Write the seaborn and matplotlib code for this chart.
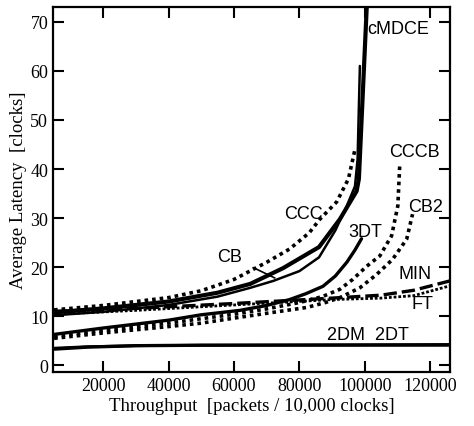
import matplotlib
matplotlib.use("Agg")
import matplotlib.pyplot as plt
import seaborn as sns

# ── Datos (throughput, latencia) ─────────────────────────────────────────
cmdce_x = [5000, 20000, 40000, 55000, 65000, 75000, 86000, 92400, 97500, 98200, 99500, 100800]
cmdce_y = [10.8, 11.6, 13.0, 14.8, 16.6, 19.8, 24.1, 29.8, 35.5, 38.0, 57.0, 76.0]

cb_x = [5000, 20000, 40000, 55000, 65000, 72000, 80000, 86000, 91000, 94500, 97000, 97800, 98500]
cb_y = [10.2, 10.9, 12.3, 14.0, 15.8, 17.2, 19.2, 22.0, 27.5, 32.5, 36.5, 42.0, 61.0]

ccc_x = [5000, 20000, 40000, 50000, 60000, 70000, 77000, 83000, 86300, 91400, 95000, 97000]
ccc_y = [11.3, 12.2, 13.8, 15.2, 17.5, 21.0, 23.7, 27.0, 29.8, 33.3, 38.0, 44.0]

tdt_x = [5000, 20000, 40000, 50000, 61800, 70000, 77000, 82000, 87200, 91000, 94500, 97000, 99000]
tdt_y = [6.3, 7.6, 9.2, 10.3, 11.2, 12.2, 13.4, 14.6, 16.1, 18.2, 21.0, 23.5, 25.8]

cccb_x = [5000, 20000, 40000, 50000, 60000, 70000, 80000, 87000, 92400, 96300, 100600, 104600, 108200, 110100, 110700]
cccb_y = [5.9, 7.1, 8.6, 9.5, 10.4, 11.5, 12.8, 14.0, 15.5, 17.5, 20.2, 22.3, 26.4, 32.5, 41.0]

cb2_x = [5000, 20000, 40000, 50000, 61800, 72000, 82300, 88000, 92400, 98500, 103600, 108500, 112800, 114600]
cb2_y = [5.5, 6.6, 7.9, 8.6, 9.8, 10.8, 11.8, 12.8, 13.8, 15.8, 18.5, 21.6, 25.7, 30.8]

min_x = [5000, 30000, 60000, 90000, 105000, 115000, 126000]
min_y = [11.0, 11.6, 12.6, 13.7, 14.3, 15.3, 17.2]

ft_x = [5000, 30000, 60000, 90000, 105000, 115000, 126000]
ft_y = [10.4, 11.2, 12.3, 13.4, 13.7, 14.2, 16.2]

mesh_x = [5000, 15000, 30000, 50000, 126000]
mesh_y = [3.3, 3.7, 4.0, 4.1, 4.2]
torus_x = [5000, 15000, 30000, 50000, 126000]
torus_y = [3.5, 3.8, 4.0, 4.1, 4.1]

x_ticks = [20000, 40000, 60000, 80000, 100000, 120000]
y_ticks = [0, 10, 20, 30, 40, 50, 60, 70]

SERIF = "Liberation Serif"
SANS = "Liberation Sans"

sns.set_style("ticks", {"axes.edgecolor": "black", "xtick.color": "black",
                        "ytick.color": "black", "text.color": "black",
                        "axes.labelcolor": "black"})
plt.rcParams["font.family"] = [SERIF, "DejaVu Serif"]

fig = plt.figure(figsize=(4.74, 4.27), dpi=100)
ax = fig.add_axes([0.112, 0.126, 0.837, 0.855])

DOT = (0, (1, 1.1))
series = [
    (cmdce_x, cmdce_y, "-", 3.0),
    (cb_x, cb_y, "-", 1.8),
    (ccc_x, ccc_y, DOT, 2.6),
    (tdt_x, tdt_y, "-", 2.4),
    (cccb_x, cccb_y, DOT, 2.6),
    (cb2_x, cb2_y, DOT, 2.6),
    (min_x, min_y, (0, (4, 1.5)), 2.4),
    (ft_x, ft_y, (0, (1, 0.7)), 2.0),
    (mesh_x, mesh_y, "-", 2.4),
    (torus_x, torus_y, "-", 2.0),
]
for xs, ys, ls, lw in series:
    sns.lineplot(x=xs, y=ys, ax=ax, color="black", linestyle=ls, lw=lw)

# ── Etiquetas de las curvas ───────────────────────────────────────────────
lab = dict(fontsize=13, family=SANS, color="black")
ax.text(100900, 68.6, "cMDCE", ha="left", va="center", **lab)
ax.text(115300, 43.5, "CCCB", ha="center", va="center", **lab)
ax.text(81100, 31.0, "CCC", ha="center", va="center", **lab)
ax.text(118600, 32.4, "CB2", ha="center", va="center", **lab)
ax.text(100000, 27.3, "3DT", ha="center", va="center", **lab)
ax.annotate("CB", xy=(72500, 17.8), xytext=(58800, 22.2), ha="center", va="center",
            arrowprops=dict(arrowstyle="-", color="black", lw=1.2, shrinkA=6, shrinkB=0), **lab)
ax.text(115500, 18.8, "MIN", ha="center", va="center", **lab)
ax.text(117700, 12.7, "FT", ha="center", va="center", **lab)
ax.text(101000, 6.3, "2DM  2DT", ha="center", va="center", **lab)

ax.set_xlim(4700, 126000)
ax.set_ylim(-1.4, 73)
ax.set_xticks(x_ticks)
ax.set_yticks(y_ticks)
ax.tick_params(direction="in", length=8, width=1.5, top=True, right=True, labelsize=13)
for s in ax.spines.values():
    s.set_linewidth(1.6)

ax.set_xlabel("Throughput  [packets / 10,000 clocks]", fontsize=13.5, labelpad=2)
ax.set_ylabel("Average Latency  [clocks]", fontsize=13.5, labelpad=2)

fig.savefig("out.png", dpi=100)
